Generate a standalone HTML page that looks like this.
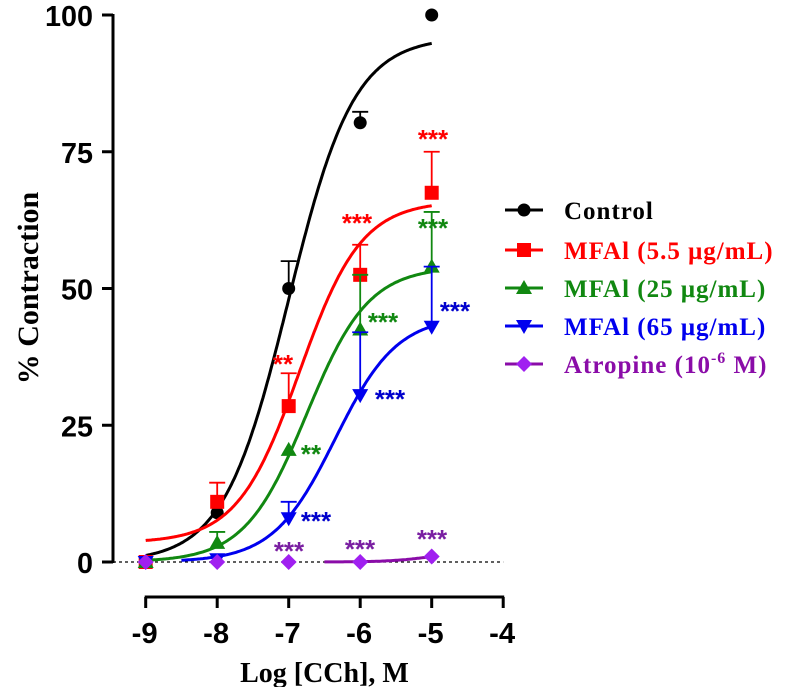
<!DOCTYPE html>
<html><head><meta charset="utf-8"><style>
html,body{margin:0;padding:0;background:#fff;}
svg{display:block;}
.tk{font-family:"Liberation Sans",Arial,sans-serif;font-weight:bold;font-size:29px;}
.lg{font-family:"Liberation Serif",serif;font-weight:bold;font-size:23px;}
.lgt{font-family:"Liberation Serif",serif;font-weight:bold;font-size:25px;letter-spacing:1px;}
.st{font-family:"Liberation Sans",sans-serif;font-weight:bold;font-size:26px;}
</style></head><body>
<svg id="chart" width="787" height="687" viewBox="0 0 787 687" xmlns="http://www.w3.org/2000/svg"></svg>
<script>
const xTicks=[-9,-8,-7,-6,-5,-4];
const yTicks=[0,25,50,75,100];
const doses=[-9,-8,-7,-6,-5];
const controlVals=[0,9,50,80.3,100];
const controlErr=[0,0,5,2,0];
const red55Vals=[0,11,28.5,52.5,67.5];
const red55Err=[0,3.5,6,5.5,7.5];
const green25Vals=[0,3.5,20.5,42.5,54];
const green25Err=[0,2,0,10,10];
const blue65Vals=[0,0.5,8,30.5,43];
const blue65Err=[0,0,3,11.5,11];
const atropineVals=[0,0,0,0,1];
const atropineErr=[0,0,0,0,0];
// Hill fit params: bottom, top, logEC50, slope, start x
const controlFit=[0,96,-7.0,0.95,-9];
const red55Fit=[3.5,66,-6.85,1,-9];
const green25Fit=[0,54,-6.75,1,-9];
const blue65Fit=[0,45,-6.35,1,-8.5];
const atropineFit=[0,2,-5,1.5,-6.5];
const legendLabels=["Control","MFAl (5.5 μg/mL)","MFAl (25 μg/mL)","MFAl (65 μg/mL)","Atropine (10"];

const NS="http://www.w3.org/2000/svg";
const svg=document.getElementById('chart');
const X=v=>145.7+(v+9)*71.5;
const Y=v=>562-v*5.47;
function mk(t,a,p){const e=document.createElementNS(NS,t);for(const k in a)e.setAttribute(k,a[k]);(p||svg).appendChild(e);return e;}

let zl=mk('line',{x1:113,x2:X(-4),y1:Y(0),y2:Y(0),stroke:'#000','stroke-width':1.3,'stroke-dasharray':'3,3'});



let ya=mk('g',{});


mk('line',{x1:113,x2:113,y1:Y(100)-1,y2:Y(0)+1,stroke:'#000','stroke-width':3},ya);
yTicks.forEach(t=>{
  mk('line',{x1:102,x2:113,y1:Y(t),y2:Y(t),stroke:'#000','stroke-width':3},ya);
  const tx=mk('text',{x:93,y:Y(t)+11,'text-anchor':'end',class:'tk',textLength:String(t).length*16,lengthAdjust:'spacingAndGlyphs'},ya);tx.textContent=t;
  
  
});
let yt=mk('text',{x:0,y:0,class:'lg','text-anchor':'middle',transform:'translate(38,288) rotate(-90)'});
yt.setAttribute('style','font-size:30px');
yt.textContent='%  Contraction';



let xa=mk('g',{});


mk('line',{x1:X(-9)-1,x2:X(-4)+1,y1:597,y2:597,stroke:'#000','stroke-width':3},xa);
xTicks.forEach(t=>{
  mk('line',{x1:X(t),x2:X(t),y1:597,y2:608,stroke:'#000','stroke-width':3},xa);
  const tx=mk('text',{x:X(t)-1,y:643,'text-anchor':'middle',class:'tk',textLength:26,lengthAdjust:'spacingAndGlyphs'},xa);tx.textContent=t;
  
  
});
let xt=mk('text',{x:X(-6.5),y:682,'text-anchor':'middle',class:'lg'});
xt.setAttribute('style','font-size:28px');
xt.textContent='Log [CCh], M';



function marker(g,type,cx,cy,col){
  if(type==='circle')mk('circle',{cx:cx,cy:cy,r:6.5,fill:col},g);
  else if(type==='square')mk('rect',{x:cx-7,y:cy-7,width:14,height:14,fill:col},g);
  else if(type==='up')mk('polygon',{points:`${cx},${cy-8} ${cx+8},${cy+6} ${cx-8},${cy+6}`,fill:col},g);
  else if(type==='down')mk('polygon',{points:`${cx},${cy+8} ${cx+8},${cy-6} ${cx-8},${cy-6}`,fill:col},g);
  else mk('polygon',{points:`${cx},${cy-8} ${cx+8},${cy} ${cx},${cy+8} ${cx-8},${cy}`,fill:col},g);
}
function hill(p,x){return p[0]+(p[1]-p[0])/(1+Math.pow(10,(p[2]-x)*p[3]));}
const series=[
 {name:'control',vals:controlVals,err:controlErr,fit:controlFit,col:'#000',m:'circle'},
 {name:'mfal-5-5',vals:red55Vals,err:red55Err,fit:red55Fit,col:'#ff0000',m:'square'},
 {name:'mfal-25',vals:green25Vals,err:green25Err,fit:green25Fit,col:'#118811',m:'up'},
 {name:'mfal-65',vals:blue65Vals,err:blue65Err,fit:blue65Fit,col:'#0000ee',m:'down'},
 {name:'atropine',vals:atropineVals,err:atropineErr,fit:atropineFit,col:'#8a0ca8',m:'diamond',mc:'#a020f0'}
];
series.forEach(s=>{
  const g=mk('g',{});
  
  
  let d='';
  for(let x=s.fit[4];x<=-4.99;x+=0.02){const xx=Math.min(x,-5);d+=(d?'L':'M')+X(xx).toFixed(1)+','+Y(hill(s.fit,xx)).toFixed(1);}
  const c=mk('path',{d:d,fill:'none',stroke:s.col,'stroke-width':3},g);
  
  
  doses.forEach((x,i)=>{
    const v=s.vals[i],e=s.err[i];
    if(e>0){
      mk('line',{x1:X(x),x2:X(x),y1:Y(v),y2:Y(v+e),stroke:s.col,'stroke-width':1.8},g);
      mk('line',{x1:X(x)-8,x2:X(x)+8,y1:Y(v+e),y2:Y(v+e),stroke:s.col,'stroke-width':1.8},g);
    }
    marker(g,s.m,X(x),Y(v),s.mc||s.col);
  });
});

const stars=[
 ['**',283,358,'#ff0000'],['***',357,217,'#ff0000'],['***',433,133,'#ff0000'],
 ['***',433,222,'#118811'],['***',383,316,'#118811'],['**',311,448,'#118811'],
 ['***',455,305,'#0000cc'],['***',390,393,'#0000cc'],['***',316,515,'#0000cc'],
 ['***',289,545,'#7a1fa2'],['***',360,543,'#7a1fa2'],['***',432,533,'#7a1fa2']
];
stars.forEach(s=>{
  const t=mk('text',{x:s[1],y:s[2]+15,'text-anchor':'middle',class:'st',fill:s[3]});
  t.textContent=s[0];
  
  
});

const lg=mk('g',{});


const ly=[210,250,288,326,364];
series.forEach((s,i)=>{
  const e=mk('g',{},lg);
  
  
  mk('line',{x1:505,x2:543,y1:ly[i],y2:ly[i],stroke:s.col,'stroke-width':3},e);
  marker(e,s.m,524,ly[i],s.mc||s.col);
  const t=mk('text',{x:564,y:ly[i]+9,class:'lgt',fill:s.col},e);
  t.textContent=legendLabels[i];
  if(i===4){
    const sp=mk('tspan',{dy:-10,'font-size':'16'},t);sp.textContent='-6';
    const sp2=mk('tspan',{dy:10},t);sp2.textContent=' M)';
  }
});
</script>
</body></html>
